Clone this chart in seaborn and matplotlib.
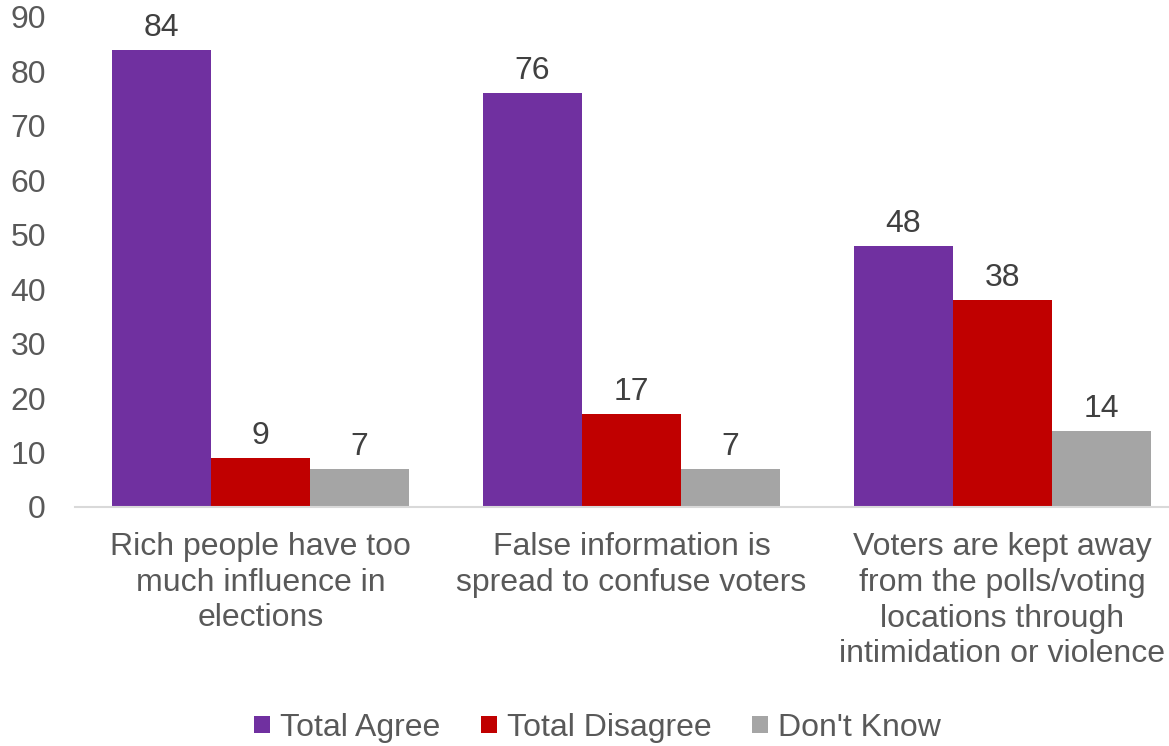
import matplotlib
matplotlib.use("Agg")
import matplotlib.pyplot as plt
import seaborn as sns
import pandas as pd
from matplotlib.patches import Patch

categories = [
    "Rich people have too\nmuch influence in\nelections",
    "False information is\nspread to confuse voters",
    "Voters are kept away\nfrom the polls/voting\nlocations through\nintimidation or violence",
]
series = ["Total Agree", "Total Disagree", "Don't Know"]
total_agree = [84, 76, 48]
total_disagree = [9, 17, 38]
dont_know = [7, 7, 14]
colors = ["#7030A0", "#C00000", "#A5A5A5"]

rows = []
for name, vals in zip(series, [total_agree, total_disagree, dont_know]):
    for c, v in zip(categories, vals):
        rows.append({"category": c, "series": name, "value": v})
df = pd.DataFrame(rows)

sns.set_theme(style="white")
plt.rcParams["font.family"] = ["Liberation Sans", "DejaVu Sans"]

FS = 23
fig = plt.figure(figsize=(11.69, 7.46), dpi=100)
ax = fig.add_axes([75 / 1169, 239 / 746, (1169 - 75) / 1169, 490 / 746])

sns.barplot(data=df, x="category", y="value", hue="series", palette=colors,
            order=categories, hue_order=series, width=0.8, ax=ax,
            saturation=1, legend=False, edgecolor="none")

for cont in ax.containers:
    ax.bar_label(cont, labels=[f"{v:.0f}" for v in cont.datavalues],
                 padding=5, fontsize=FS, color="#404040")

ax.set_ylim(0, 90)
ax.set_xlim(-0.5, 2.449)
ax.set_yticks(range(0, 91, 10))
ax.tick_params(axis="y", labelsize=FS, labelcolor="#595959", length=0, pad=21)
ax.tick_params(axis="x", labelsize=FS, labelcolor="#595959", length=0, pad=18)
for t in ax.get_xticklabels():
    t.set_linespacing(1.25)
ax.set_xlabel("")
ax.set_ylabel("")
for s in ["top", "right", "left"]:
    ax.spines[s].set_visible(False)
ax.spines["bottom"].set_color("#D9D9D9")
ax.spines["bottom"].set_linewidth(1.5)
ax.grid(False)

handles = [Patch(facecolor=c, edgecolor="none", label=s) for c, s in zip(colors, series)]
fig.legend(handles=handles, loc="center", bbox_to_anchor=(0.511, 18 / 746),
           ncol=3, frameon=False, fontsize=FS, labelcolor="#595959",
           handlelength=0.5, handleheight=0.45, handletextpad=0.31, columnspacing=1.28)

fig.savefig("out.png", dpi=100)
